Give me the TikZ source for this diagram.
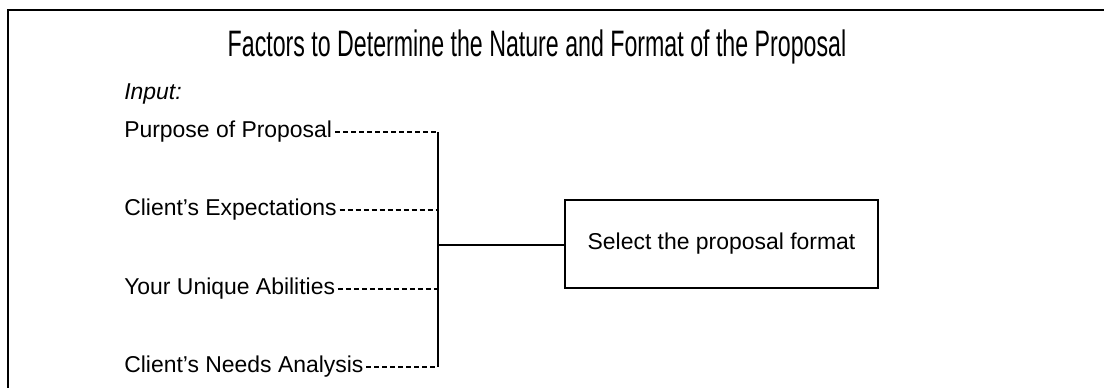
\documentclass[tikz,border=0pt]{standalone}
\usepackage{fontspec}
\setmainfont{Liberation Sans}
\newfontfamily\titlefont[FakeStretch=0.63]{Liberation Sans}

\begin{document}
\begin{tikzpicture}[x=0.75pt, y=-0.75pt,
      every node/.style={inner sep=0pt, font=\fontsize{17.2}{20}\selectfont},
      factor/.style={anchor=base west},
      fmtbox/.style={draw, line width=1.8pt, minimum width=234.75pt, minimum height=66pt},
      link/.style={line width=1.8pt},
      dashlink/.style={line width=1pt, dash pattern=on 3.75pt off 2.25pt}
    ]
    \useasboundingbox (0,0) rectangle (1104,388);

    \draw[line width=2pt] (8,390) -- (8,10) -- (1106,10);

    \node[anchor=base, font=\titlefont\fontsize{27.6}{32}\selectfont] (title) at (537,57)
      {Factors to Determine the Nature and Format of the Proposal};
    \node[factor, font=\itshape\fontsize{17.2}{20}\selectfont] (input) at (124,100) {Input:};

    \node[factor] (F1) at (124,138) {Purpose of Proposal};
    \node[factor] (F2) at (124,216) {Client’s Expectations};
    \node[factor] (F3) at (124,295) {Your Unique Abilities};
    \node[factor] (F4) at (124,373) {Client’s Needs Analysis};

    \coordinate (B1) at (438,132);
    \coordinate (B2) at (438,210);
    \coordinate (B3) at (438,289);
    \coordinate (B4) at (438,367);
    \coordinate (J) at (438,245);

    \node[fmtbox] (fmt) at (721.5,244) {Select the proposal format};

    \draw[dashlink] ([xshift=2pt]F1.base east |- B1) -- (B1);
    \draw[dashlink] ([xshift=2pt]F2.base east |- B2) -- (B2);
    \draw[dashlink] ([xshift=2pt]F3.base east |- B3) -- (B3);
    \draw[dashlink] ([xshift=2pt]F4.base east |- B4) -- (B4);
    \draw[link] (B1) -- (B4);
    \draw[link] (J) -- (J -| fmt.west);

\end{tikzpicture}
\end{document}
